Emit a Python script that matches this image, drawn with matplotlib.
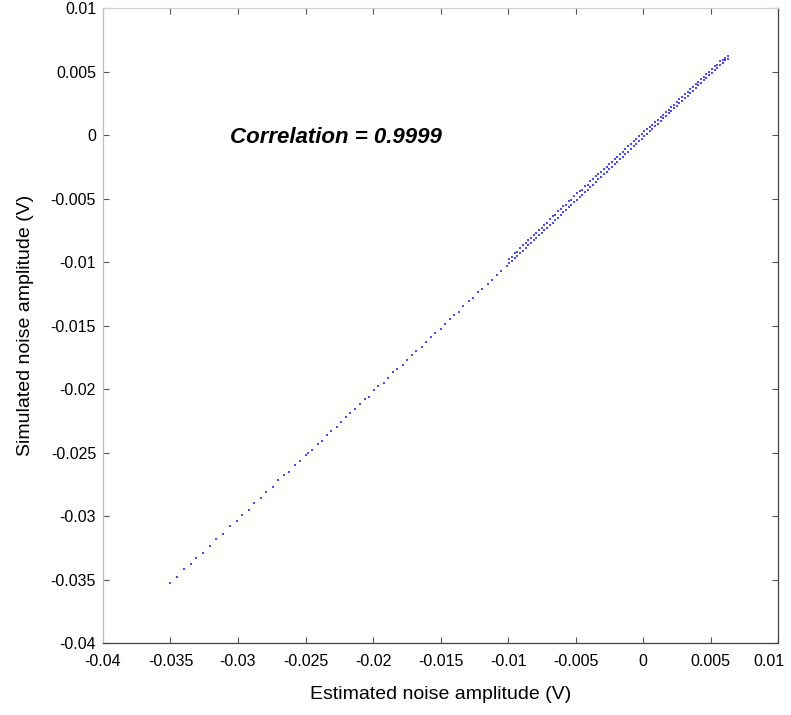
import matplotlib.pyplot as plt
import matplotlib.transforms as mtransforms

# Estimated vs simulated noise amplitude (V)

# sparse lower part
x_low = [-0.0350, -0.0345, -0.0340, -0.0335, -0.0331, -0.0326, -0.0321, -0.0316, -0.0311, -0.0306,
         -0.0301, -0.0297, -0.0292, -0.0288, -0.0283, -0.0279, -0.0274, -0.0270, -0.0266, -0.0262,
         -0.0258, -0.0254, -0.0250]
y_low = [-0.0353, -0.0348, -0.0342, -0.0338, -0.0333, -0.0329, -0.0324, -0.0318, -0.0314, -0.0308,
         -0.0304, -0.0299, -0.0295, -0.0290, -0.0286, -0.0281, -0.0277, -0.0272, -0.0268, -0.0265,
         -0.0260, -0.0257, -0.0252]

# middle part
x_mid = [-0.0248, -0.0245, -0.0241, -0.0238, -0.0234, -0.0231, -0.0227, -0.0224, -0.0220, -0.0217,
         -0.0213, -0.0210, -0.0206, -0.0203, -0.0199, -0.0196, -0.0192, -0.0189, -0.0185, -0.0182,
         -0.0178, -0.0175, -0.0171, -0.0168, -0.0164, -0.0161, -0.0157, -0.0154, -0.0150, -0.0147,
         -0.0143, -0.0140, -0.0136, -0.0133, -0.0129, -0.0126, -0.0122, -0.0119, -0.0115, -0.0112,
         -0.0108, -0.0105, -0.0101]
y_mid = [-0.0250, -0.0248, -0.0243, -0.0241, -0.0236, -0.0233, -0.0230, -0.0226, -0.0222, -0.0219,
         -0.0216, -0.0212, -0.0208, -0.0206, -0.0201, -0.0198, -0.0195, -0.0191, -0.0187, -0.0184,
         -0.0181, -0.0177, -0.0173, -0.0170, -0.0167, -0.0163, -0.0159, -0.0156, -0.0153, -0.0149,
         -0.0145, -0.0142, -0.0139, -0.0135, -0.0131, -0.0128, -0.0124, -0.0121, -0.0117, -0.0114,
         -0.0110, -0.0107, -0.0103]

# dense upper part (two edges of the band)
x_top = [-0.0099, -0.0097, -0.0095, -0.0093, -0.0091, -0.0089, -0.0087, -0.0085, -0.0083, -0.0081,
         -0.0079, -0.0077, -0.0075, -0.0073, -0.0071, -0.0069, -0.0067, -0.0065, -0.0063, -0.0061,
         -0.0059, -0.0057, -0.0055, -0.0053, -0.0051, -0.0049, -0.0047, -0.0045, -0.0043, -0.0041,
         -0.0039, -0.0037, -0.0035, -0.0033, -0.0031, -0.0029, -0.0027, -0.0025, -0.0023, -0.0021,
         -0.0019, -0.0017, -0.0015, -0.0013, -0.0011, -0.0009, -0.0007, -0.0005, -0.0003, -0.0001,
         0.0001, 0.0003, 0.0005, 0.0007, 0.0009, 0.0011, 0.0013, 0.0015, 0.0017, 0.0019,
         0.0021, 0.0023, 0.0025, 0.0027, 0.0029, 0.0031, 0.0033, 0.0035, 0.0037, 0.0039,
         0.0041, 0.0043, 0.0045, 0.0047, 0.0049, 0.0051, 0.0053, 0.0055, 0.0057, 0.0059,
         0.0061, 0.0063]
y_top_a = [-0.0101, -0.0099, -0.0097, -0.0095, -0.0093, -0.0091, -0.0089, -0.0087, -0.0085, -0.0083,
           -0.0081, -0.0079, -0.0077, -0.0075, -0.0073, -0.0071, -0.0069, -0.0067, -0.0065, -0.0063,
           -0.0061, -0.0059, -0.0057, -0.0055, -0.0053, -0.0051, -0.0049, -0.0047, -0.0045, -0.0043,
           -0.0041, -0.0039, -0.0037, -0.0035, -0.0033, -0.0031, -0.0029, -0.0027, -0.0025, -0.0023,
           -0.0021, -0.0019, -0.0017, -0.0015, -0.0013, -0.0011, -0.0009, -0.0007, -0.0005, -0.0003,
           -0.0001, 0.0001, 0.0003, 0.0005, 0.0007, 0.0009, 0.0011, 0.0013, 0.0015, 0.0017,
           0.0019, 0.0021, 0.0023, 0.0025, 0.0027, 0.0029, 0.0031, 0.0033, 0.0035, 0.0037,
           0.0039, 0.0041, 0.0043, 0.0045, 0.0047, 0.0049, 0.0051, 0.0053, 0.0055, 0.0057,
           0.0059, 0.0060]
y_top_b = [-0.0098, -0.0096, -0.0093, -0.0092, -0.0089, -0.0087, -0.0085, -0.0083, -0.0081, -0.0079,
           -0.0077, -0.0075, -0.0073, -0.0071, -0.0069, -0.0066, -0.0064, -0.0063, -0.0060, -0.0058,
           -0.0056, -0.0055, -0.0052, -0.0051, -0.0048, -0.0046, -0.0044, -0.0043, -0.0040, -0.0039,
           -0.0036, -0.0035, -0.0032, -0.0031, -0.0029, -0.0027, -0.0025, -0.0023, -0.0021, -0.0019,
           -0.0017, -0.0015, -0.0013, -0.0011, -0.0009, -0.0007, -0.0005, -0.0003, -0.0001, 0.0001,
           0.0003, 0.0005, 0.0006, 0.0008, 0.0010, 0.0012, 0.0014, 0.0016, 0.0018, 0.0020,
           0.0022, 0.0024, 0.0026, 0.0028, 0.0030, 0.0032, 0.0034, 0.0036, 0.0038, 0.0040,
           0.0042, 0.0044, 0.0046, 0.0048, 0.0050, 0.0052, 0.0054, 0.0055, 0.0058, 0.0059,
           0.0061, 0.0062]

xticks = [-0.04, -0.035, -0.03, -0.025, -0.02, -0.015, -0.01, -0.005, 0, 0.005, 0.01]
xlabels = ["-0.04", "-0.035", "-0.03", "-0.025", "-0.02", "-0.015", "-0.01", "-0.005", "0", "0.005", "0.01"]
yticks = [-0.04, -0.035, -0.03, -0.025, -0.02, -0.015, -0.01, -0.005, 0, 0.005, 0.01]
ylabels = ["-0.04", "-0.035", "-0.03", "-0.025", "-0.02", "-0.015", "-0.01", "-0.005", "0", "0.005", "0.01"]

plt.rcParams['font.family'] = ['Liberation Sans', 'DejaVu Sans']

fig = plt.figure(figsize=(7.91, 7.15), dpi=100)
ax = fig.add_axes([0.1302, 0.1007, 0.8534, 0.8881])

style = dict(linestyle="none", marker="s", markersize=2.0, markeredgewidth=0, color="blue", alpha=0.7)
ax.plot(x_low, y_low, **style)
ax.plot(x_mid, y_mid, **style)
ax.plot(x_top, y_top_a, **style)
ax.plot(x_top, y_top_b, **style)

ax.set_xlim(-0.04, 0.01)
ax.set_ylim(-0.04, 0.01)
ax.set_xticks(xticks)
ax.set_xticklabels(xlabels)
ax.set_yticks(yticks)
ax.set_yticklabels(ylabels)
ax.tick_params(direction="in", length=4.5, width=0.8, color="#555555", labelsize=11.5,
               top=True, right=True, pad=5)
ax.tick_params(axis="x", pad=8)

# last x label sits a bit left so it stays inside the figure
last = ax.get_xticklabels()[-1]
last.set_transform(last.get_transform() + mtransforms.ScaledTranslation(-9 / 100, 0, fig.dpi_scale_trans))

ax.spines["left"].set_color("#bfbfbf")
ax.spines["top"].set_color("#d0d0d0")
ax.spines["right"].set_color("#404040")
ax.spines["bottom"].set_color("#404040")
for s in ax.spines.values():
    s.set_linewidth(0.9)

ax.set_xlabel("Estimated noise amplitude (V)", fontsize=14, labelpad=12)
ax.set_ylabel("Simulated noise amplitude (V)", fontsize=14, labelpad=12)

ax.text(-0.0306, -0.0002, "Correlation = 0.9999", fontsize=16, fontweight="bold",
        fontstyle="italic", va="center", ha="left")

plt.savefig("out.png", dpi=100)
